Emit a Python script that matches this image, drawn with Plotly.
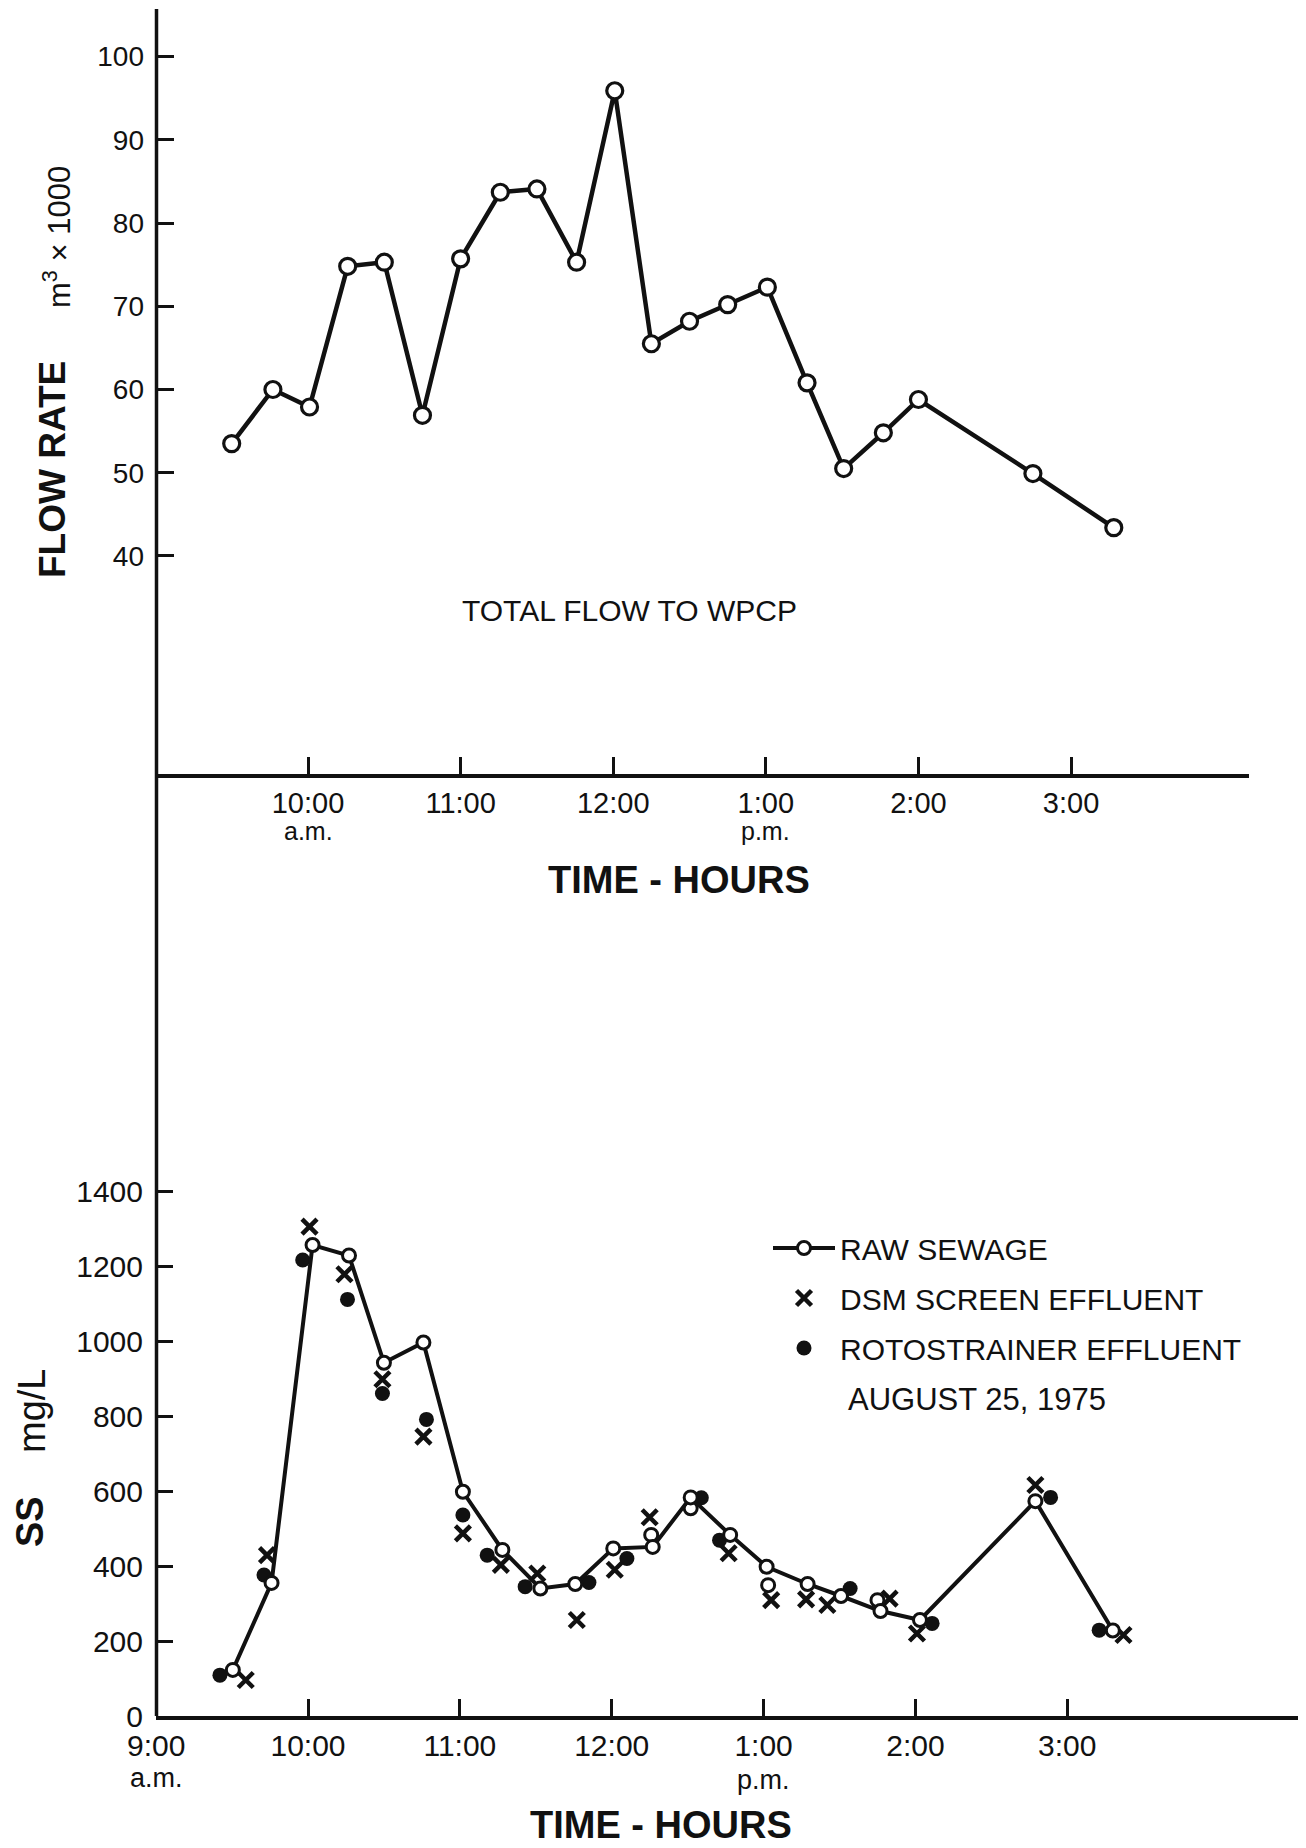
import plotly.graph_objects as go

# page body has an 8px margin: figure occupies the window from (8,8) to the edges
OFF = 8
W, H = 1306 - OFF, 1848 - OFF

# ---------------- data ----------------
# Top panel: total flow to WPCP (time in decimal hours, 24h clock)
flow_time_h = [9.50, 9.77, 10.01, 10.26, 10.50, 10.75, 11.00, 11.26, 11.50, 11.76, 12.01,
               12.25, 12.50, 12.75, 13.01, 13.27, 13.51, 13.77, 14.00, 14.75, 15.28]
flow_rate = [53.5, 60.0, 57.9, 74.8, 75.3, 56.9, 75.7, 83.7, 84.1, 75.3, 95.9,
             65.5, 68.2, 70.2, 72.3, 60.8, 50.5, 54.8, 58.8, 49.9, 43.4]

# Bottom panel: suspended solids, mg/L
raw_time_h = [9.505, 9.76, 10.03, 10.27, 10.50, 10.76, 11.02, 11.28, 11.53, 11.76, 12.01,
              12.27, 12.52, 12.78, 13.02, 13.29, 13.51, 13.77, 14.03, 14.79, 15.30]
raw_ss = [123, 355, 1256, 1228, 942, 996, 598, 443, 340, 352, 447,
          451, 583, 483, 398, 352, 320, 280, 256, 573, 228]
raw_extra_time_h = [12.26, 12.52, 13.03, 13.75]
raw_extra_ss = [483, 554, 349, 309]

dsm_time_h = [9.59, 9.73, 10.01, 10.24, 10.49, 10.76, 11.02, 11.27, 11.51, 11.77, 12.02,
              12.25, 12.77, 13.05, 13.28, 13.42, 13.83, 14.01, 14.79, 15.37]
dsm_ss = [96, 429, 1305, 1178, 898, 745, 487, 403, 380, 256, 390,
          530, 434, 309, 311, 296, 313, 220, 616, 216]

roto_time_h = [9.42, 9.71, 9.965, 10.26, 10.49, 10.78, 11.02, 11.18, 11.43, 11.85, 12.10,
               12.59, 12.71, 13.57, 14.11, 14.89, 15.21]
roto_ss = [109, 376, 1216, 1111, 860, 791, 536, 429, 345, 356, 420,
           582, 469, 340, 247, 583, 229]

top_tick_vals = [10, 11, 12, 13, 14, 15]
top_tick_text = ["10:00", "11:00", "12:00", "1:00", "2:00", "3:00"]
bot_tick_vals = [9, 10, 11, 12, 13, 14, 15]
bot_tick_text = ["9:00", "10:00", "11:00", "12:00", "1:00", "2:00", "3:00"]
flow_yticks = [40, 50, 60, 70, 80, 90, 100]
ss_yticks = [0, 200, 400, 600, 800, 1000, 1200, 1400]

# ---------------- helpers (px are window pixels) ----------------
def fx(px):
    return (px - OFF) / W

def fy(py):
    return 1 - (py - OFF) / H

INK = "#111111"
FONT = "Liberation Sans, Arial, sans-serif"

fig = go.Figure()

# top flow
fig.add_trace(go.Scatter(
    x=flow_time_h, y=flow_rate, mode="lines+markers", xaxis="x", yaxis="y",
    line=dict(color=INK, width=4.5),
    marker=dict(symbol="circle", size=16, color="white", line=dict(color=INK, width=3.2)),
    showlegend=False, cliponaxis=False))

# bottom series
fig.add_trace(go.Scatter(
    x=roto_time_h, y=roto_ss, mode="markers", xaxis="x2", yaxis="y2",
    name="ROTOSTRAINER EFFLUENT", legendgroup="c", legendrank=3,
    marker=dict(symbol="circle", size=15, color=INK, line=dict(width=0)),
    cliponaxis=False))
fig.add_trace(go.Scatter(
    x=dsm_time_h, y=dsm_ss, mode="markers", xaxis="x2", yaxis="y2",
    name="DSM SCREEN EFFLUENT", legendgroup="b", legendrank=2,
    marker=dict(symbol="x-thin", size=15, color=INK, line=dict(color=INK, width=4.5)),
    cliponaxis=False))
fig.add_trace(go.Scatter(
    x=raw_extra_time_h, y=raw_extra_ss, mode="markers", xaxis="x2", yaxis="y2",
    showlegend=False,
    marker=dict(symbol="circle", size=13, color="white", line=dict(color=INK, width=3)),
    cliponaxis=False))
fig.add_trace(go.Scatter(
    x=raw_time_h, y=raw_ss, mode="lines+markers", xaxis="x2", yaxis="y2",
    name="RAW SEWAGE", legendgroup="a", legendrank=1,
    line=dict(color=INK, width=4),
    marker=dict(symbol="circle", size=13, color="white", line=dict(color=INK, width=3)),
    cliponaxis=False))

# panel geometry (window pixels)
top_x_left, top_x_right = 157, 1249
top_y_top, top_y_bot = 9, 774
bot_x_left, bot_x_right = 156, 1306
bot_y_top, bot_y_bot = 1160, 1716

axis_common = dict(
    showgrid=False, zeroline=False, ticks="inside", ticklen=17, tickwidth=2.5,
    tickcolor=INK, color=INK, automargin=False, fixedrange=True,
)

fig.update_layout(
    width=W, height=H, margin=dict(l=0, r=0, t=0, b=0, pad=0),
    paper_bgcolor="white", plot_bgcolor="white",
    font=dict(family=FONT, color=INK),
    xaxis=dict(axis_common, domain=[fx(top_x_left), fx(top_x_right)],
               range=[9.0105, 16.166], anchor="y",
               showline=True, linewidth=3.5, linecolor=INK,
               tickvals=top_tick_vals, ticktext=top_tick_text,
               tickfont=dict(size=29, family=FONT, color=INK), ticklabelstandoff=0),
    yaxis=dict(axis_common, domain=[fy(top_y_bot), fy(top_y_top)],
               range=[13.8, 105.72], anchor="x", showline=False,
               tickvals=flow_yticks, tickfont=dict(size=28, family=FONT, color=INK),
               ticklabelstandoff=12),
    xaxis2=dict(axis_common, domain=[fx(bot_x_left), fx(bot_x_right)],
                range=[8.999, 16.572], anchor="y2",
                showline=True, linewidth=3.5, linecolor=INK,
                tickvals=bot_tick_vals, ticktext=bot_tick_text,
                tickfont=dict(size=30, family=FONT, color=INK), ticklabelstandoff=0),
    yaxis2=dict(axis_common, domain=[fy(bot_y_bot), fy(bot_y_top)],
                range=[0, 1482.7], anchor="x2", showline=False,
                tickvals=ss_yticks, tickfont=dict(size=30, family=FONT, color=INK),
                ticklabelstandoff=12),
    legend=dict(x=fx(768), y=fy(1222), xanchor="left", yanchor="top",
                bgcolor="rgba(0,0,0,0)", font=dict(size=30, family=FONT, color=INK),
                traceorder="grouped", tracegroupgap=8, itemwidth=62),
)

# continuous vertical axis line shared by both panels
fig.add_shape(type="line", xref="paper", yref="paper",
              x0=fx(156.5), x1=fx(156.5), y0=fy(top_y_top), y1=fy(bot_y_bot),
              line=dict(color=INK, width=3.5))

def ann(text, px, py, size, bold=False, angle=0, xanchor="center", xref=None, x=None):
    t = f"<b>{text}</b>" if bold else text
    fig.add_annotation(
        text=t, x=(x if x is not None else fx(px)), xref=(xref or "paper"),
        y=fy(py), yref="paper", xanchor=xanchor, yanchor="middle",
        showarrow=False, textangle=angle,
        font=dict(size=size, family=FONT, color=INK))

# top panel texts
ann("FLOW RATE", 53, 470, 37, bold=True, angle=-90)
ann("m<sup>3</sup> × 1000", 57, 237, 31, angle=-90)
ann("TOTAL FLOW TO WPCP", 629, 610, 30)
ann("TIME - HOURS", 679, 880, 38, bold=True)
ann("a.m.", 0, 831, 25, xref="x", x=10)
ann("p.m.", 0, 831, 25, xref="x", x=13)

# bottom panel texts
ann("SS", 30, 1522, 38, bold=True, angle=-90)
ann("mg/L", 32, 1411, 38, angle=-90)
ann("TIME - HOURS", 661, 1825, 38, bold=True)
ann("a.m.", 0, 1778, 27, xref="x2", x=9)
ann("p.m.", 0, 1780, 27, xref="x2", x=13)
ann("AUGUST 25, 1975", 846, 1399, 31, xanchor="left")

fig.write_html("out.html")
